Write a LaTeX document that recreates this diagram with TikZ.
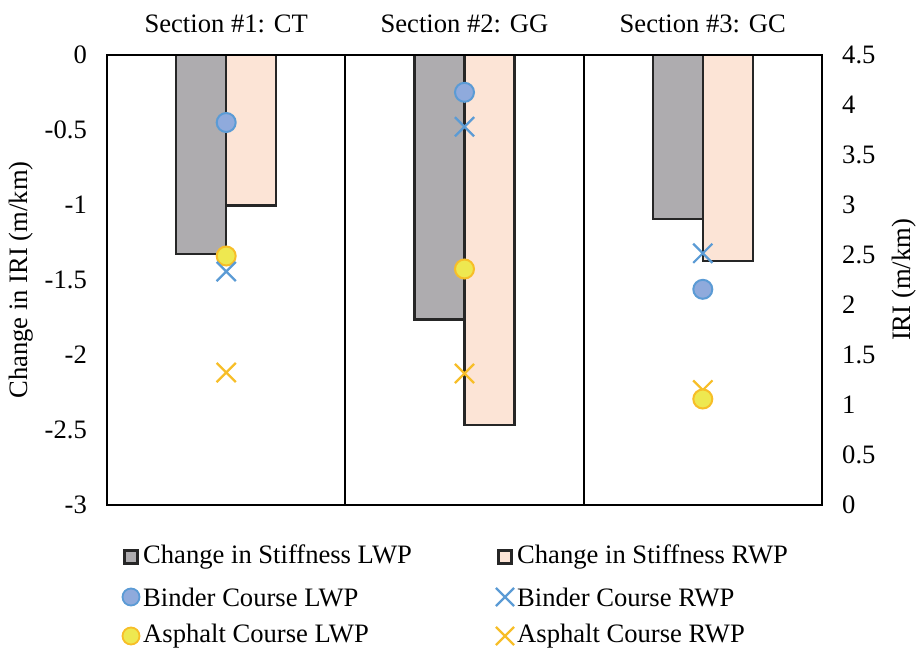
\documentclass[tikz,border=0pt]{standalone}
\usepackage{fontspec}
\setmainfont{Liberation Serif}
\usetikzlibrary{shapes.misc}
\definecolor{barg}{RGB}{174,172,175}
\definecolor{barp}{RGB}{252,228,214}
\definecolor{bluefill}{RGB}{143,170,220}
\definecolor{blueline}{RGB}{91,155,213}
\definecolor{yelfill}{RGB}{238,232,80}
\definecolor{yelline}{RGB}{247,190,40}
\definecolor{edgec}{RGB}{38,38,38}
\begin{document}
\begin{tikzpicture}[x=1pt,y=-1pt,font=\fontsize{26.6}{30}\selectfont,
  barL/.style={fill=barg,draw=edgec,line width=2.4pt},
  barR/.style={fill=barp,draw=edgec,line width=2.4pt},
  bcirc/.style={circle,fill=bluefill,draw=blueline,line width=2pt,inner sep=0pt,minimum size=19pt},
  ycirc/.style={circle,fill=yelfill,draw=yelline,line width=2pt,inner sep=0pt,minimum size=19pt},
  bx/.style={cross out,draw=blueline,line width=2.2pt,inner sep=0pt,minimum size=17pt},
  yx/.style={cross out,draw=yelline,line width=2.2pt,inner sep=0pt,minimum size=17pt},
  lsqL/.style={fill=barg,draw=edgec,line width=2.2pt,inner sep=0pt,minimum size=13pt},
  lsqR/.style={fill=barp,draw=edgec,line width=2.2pt,inner sep=0pt,minimum size=13pt},
  lcb/.style={circle,fill=bluefill,draw=blueline,line width=1.8pt,inner sep=0pt,minimum size=17pt},
  lcy/.style={circle,fill=yelfill,draw=yelline,line width=1.8pt,inner sep=0pt,minimum size=17pt},
  lxb/.style={cross out,draw=blueline,line width=2.2pt,inner sep=0pt,minimum size=16pt},
  lxy/.style={cross out,draw=yelline,line width=2.2pt,inner sep=0pt,minimum size=16pt},
  ltxt/.style={anchor=west,inner sep=0pt},
  frame/.style={draw=black,line width=1.8pt}]
\useasboundingbox (0,0) rectangle (919,651);
% bars (left axis: y = 55 - 150 v)
\draw[barL] (176.2,55) rectangle (226.2,254);
\draw[barR] (226.2,55) rectangle (276.2,205.5);
\draw[barL] (414.5,55) rectangle (464.5,319.3);
\draw[barR] (464.5,55) rectangle (514.5,425);
\draw[barL] (652.8,55) rectangle (702.8,219);
\draw[barR] (702.8,55) rectangle (752.8,260.7);
% frame and section dividers
\node[frame,rectangle,inner sep=0pt,minimum width=715pt,minimum height=450pt] (plot) at (464.5,280) {};
\draw[frame] (345.3,55) -- (345.3,505);
\draw[frame] (583.7,55) -- (583.7,505);
% markers (right axis: y = 505 - 100 v)
\node[bcirc] (b1) at (226.2,122.5) {};
\node[ycirc] (a1) at (226.2,256) {};
\node[bx] (bx1) at (226.2,271.5) {};
\node[yx] (ax1) at (226.2,372.5) {};
\node[bcirc] (b2) at (464.5,92.3) {};
\node[bx] (bx2) at (464.5,126.7) {};
\node[ycirc] (a2) at (464.5,269) {};
\node[yx] (ax2) at (464.5,373.5) {};
\node[bx] (bx3) at (702.8,253.3) {};
\node[bcirc] (b3) at (702.8,289.3) {};
\node[yx] (ax3) at (702.8,390) {};
\node[ycirc] (a3) at (702.8,399) {};
% section titles
\node (s1) at (226.2,24) {Section \#1: CT};
\node (s2) at (464.5,24) {Section \#2: GG};
\node (s3) at (702.8,24) {Section \#3: GC};
% left ticks
\foreach \v/\t [count=\i] in {0/0,0.5/-0.5,1/-1,1.5/-1.5,2/-2,2.5/-2.5,3/-3}
  \node[anchor=east,inner sep=0pt] (lt\i) at (87,55+150*\v) {\t};
% right ticks
\foreach \v [count=\i] in {0,0.5,1,1.5,2,2.5,3,3.5,4,4.5}
  \node[anchor=west,inner sep=0pt] (rt\i) at (842,505-100*\v) {\v};
% axis titles
\node[rotate=90] (ylab) at (21,280) {Change in IRI (m/km)};
\node[rotate=90] (y2lab) at (904,280) {IRI (m/km)};
% legend
\node[lsqL] (k1) at (131,557) {};
\node[ltxt] (k1t) at (143,557) {Change in Stiffness LWP};
\node[lsqR] (k2) at (505,557) {};
\node[ltxt] (k2t) at (517,557) {Change in Stiffness RWP};
\node[lcb] (k3) at (131,597) {};
\node[ltxt] (k3t) at (143,597) {Binder Course LWP};
\node[lxb] (k4) at (505,597) {};
\node[ltxt] (k4t) at (517,597) {Binder Course RWP};
\node[lcy] (k5) at (131,636) {};
\node[ltxt] (k5t) at (143,636) {Asphalt Course LWP};
\node[lxy] (k6) at (505,636) {};
\node[ltxt] (k6t) at (517,636) {Asphalt Course RWP};
\end{tikzpicture}
\end{document}
